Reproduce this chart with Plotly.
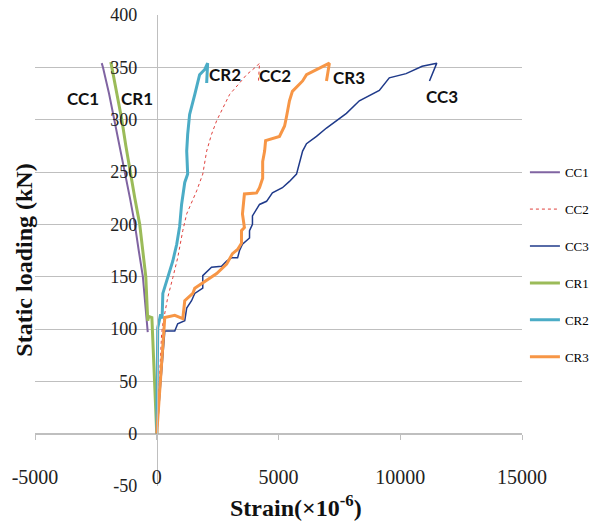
import plotly.graph_objects as go

# ---- data (strain x10^-6, load kN) ----
cc1_x = [-370, -420, -570, -740, -900, -1100, -1310, -1510, -1720, -1960, -2210, -2260]
cc1_y = [97, 110, 150, 175, 200, 225, 250, 275, 300, 325, 350, 354]

cc2_x = [0, 100, 200, 250, 450, 660, 860, 1070, 1230, 1640, 1890, 2050, 2250, 2460, 2700,
         2990, 3400, 3690, 4100, 4220, 4180]
cc2_y = [0, 50, 95, 105, 130, 149, 168, 194, 210, 232, 248, 270, 286, 299, 311,
         324, 335, 343, 351, 354, 337]

cc3_x = [0, 130, 250, 330, 740, 860, 1150, 1230, 1430, 1560, 1890, 1890, 2250, 2660, 2870,
         3070, 3320, 3400, 3520, 3810, 3810, 3930, 3930, 4100, 4220, 4510, 4750, 5160, 5450,
         5740, 5860, 5990, 6150, 6560, 6970, 7380, 7790, 8320, 9140, 9550, 10240, 10900,
         11500, 11200]
cc3_y = [0, 40, 79, 98, 98, 105, 108, 120, 127, 134, 139, 151, 159, 160, 165,
         168, 168, 175, 181, 187, 194, 200, 208, 215, 219, 222, 230, 235, 241,
         248, 259, 270, 277, 284, 292, 299, 306, 318, 328, 340, 344, 351,
         354, 337]

cr1_x = [0, -80, -160, -200, -330, -370, -450, -580, -700, -900, -1100, -1270, -1435, -1640,
         -1845, -1885, -1800]
cr1_y = [0, 50, 95, 111, 112, 108, 150, 175, 200, 225, 250, 275, 300, 325, 350, 355, 344]

cr2_x = [0, 40, 160, 220, 250, 450, 660, 820, 940, 1020, 1070, 1150, 1270, 1230, 1270, 1350,
         1560, 1760, 1970, 2090, 2050]
cr2_y = [0, 101, 114, 110, 134, 149, 165, 181, 198, 219, 229, 240, 248, 270, 286, 305,
         324, 343, 348, 354, 335]

cr3_x = [0, 120, 250, 330, 740, 1070, 1150, 1480, 1560, 1890, 2460, 2870, 3110, 3320, 3480,
         3480, 3600, 3520, 3600, 4100, 4220, 4350, 4350, 4430, 4470, 5040, 5250, 5330, 5450,
         5570, 5990, 6150, 6680, 7090, 6970]
cr3_y = [0, 40, 79, 111, 113, 110, 127, 134, 139, 144, 153, 162, 172, 176, 182,
         194, 197, 210, 229, 230, 235, 244, 260, 270, 280, 284, 294, 303, 318,
         327, 337, 343, 349, 354, 337]

x_ticks = [-5000, 0, 5000, 10000, 15000]
x_tick_text = ["-5000", "0", "5000", "10000", "15000"]
y_ticks = [-50, 0, 50, 100, 150, 200, 250, 300, 350, 400]
y_tick_text = ["-50", "0", "50", "100", "150", "200", "250", "300", "350", "400"]

labels = ["CC1", "CR1", "CR2", "CC2", "CR3", "CC3"]
label_pos = [(-3030, 320), (-820, 320), (2790, 343), (4840, 342), (7910, 340), (11730, 322)]

series = [
    ("CC1", cc1_x, cc1_y, dict(color="#8064A2", width=2)),
    ("CC2", cc2_x, cc2_y, dict(color="#E0403C", width=1, dash="dot")),
    ("CC3", cc3_x, cc3_y, dict(color="#1F3A8A", width=1.5)),
    ("CR1", cr1_x, cr1_y, dict(color="#9BBB59", width=3)),
    ("CR2", cr2_x, cr2_y, dict(color="#4BACC6", width=3)),
    ("CR3", cr3_x, cr3_y, dict(color="#F79646", width=3)),
]

fig = go.Figure()
for name, xs, ys, line in series:
    fig.add_trace(go.Scatter(x=xs, y=ys, mode="lines", name=name, line=line,
                             legendgroup=name))

serif = "Liberation Serif"
grid_col = "#BFBFBF"

fig.update_layout(
    width=594, height=525,
    margin=dict(l=35, r=72, t=15, b=39, autoexpand=False),
    paper_bgcolor="white", plot_bgcolor="white",
    showlegend=True,
    legend=dict(x=1.006, y=0.698, xanchor="left", yanchor="top",
                font=dict(family=serif, size=13, color="#000000"),
                tracegroupgap=17, bgcolor="rgba(0,0,0,0)"),
    xaxis=dict(range=[-5000, 15000], tickvals=x_ticks, ticktext=x_tick_text,
               showgrid=False, zeroline=False, automargin=False,
               anchor="free", position=50 / 450, showline=True, linecolor=grid_col,
               linewidth=1, ticks="outside", ticklen=5, tickcolor=grid_col,
               ticklabelstandoff=20,
               tickfont=dict(family=serif, size=20, color="#222222")),
    yaxis=dict(range=[-50, 400], tickvals=y_ticks, ticktext=y_tick_text,
               showgrid=True, gridcolor=grid_col, automargin=False,
               gridwidth=1, zeroline=False, anchor="free", position=0.25,
               showline=True, linecolor=grid_col, linewidth=1, ticks="",
               ticklabelstandoff=16,
               tickfont=dict(family=serif, size=18, color="#222222")),
)

for text, (ax, ay) in zip(labels, label_pos):
    fig.add_annotation(x=ax, y=ay, text="<b>" + text + "</b>", showarrow=False,
                       font=dict(family="Lato", size=17, color="#111111"))

fig.add_annotation(xref="paper", yref="paper", x=-0.022, y=0.479, textangle=-90,
                   xanchor="center", yanchor="middle",
                   text="<b>Static loading (kN)</b>", showarrow=False,
                   font=dict(family=serif, size=24, color="#111111"))
fig.add_annotation(xref="paper", yref="paper", x=0.536, y=-0.042, yanchor="middle",
                   text="<b>Strain(×10<sup>-6</sup>)</b>", showarrow=False,
                   font=dict(family=serif, size=24, color="#111111"))

fig.write_html("out.html")
